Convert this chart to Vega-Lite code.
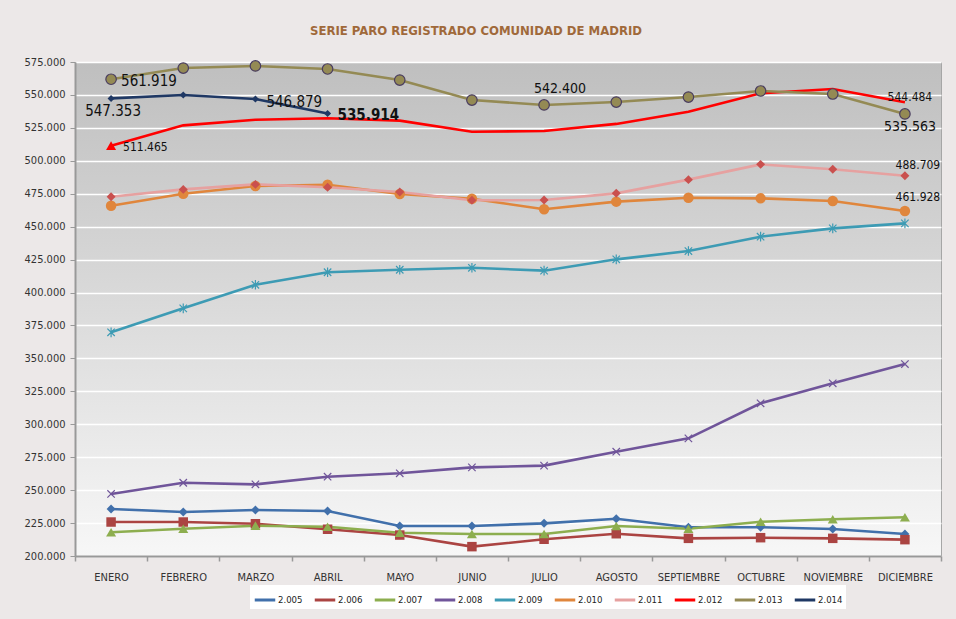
{
  "$schema": "https://vega.github.io/schema/vega-lite/v6.json",
  "width": 866,
  "height": 494,
  "autosize": {"type": "none"},
  "padding": {"left": 75, "top": 62, "right": 15, "bottom": 63},
  "background": "#ece8e8",
  "title": {
    "text": "SERIE PARO REGISTRADO COMUNIDAD DE MADRID",
    "anchor": "middle",
    "dx": -32,
    "offset": 18,
    "font": "Liberation Sans Narrow, DejaVu Sans Condensed, Roboto, sans-serif",
    "fontSize": 13,
    "fontWeight": "bold",
    "color": "#a0693a"
  },
  "config": {
    "locale": {"number": {"decimal": ",", "thousands": ".", "grouping": [3], "currency": ["", " €"]}},
    "view": {
      "fill": {"gradient": "linear", "x1": 0, "y1": 0, "x2": 0, "y2": 1,
        "stops": [{"offset": 0, "color": "#bfbfbf"}, {"offset": 0.45, "color": "#d8d8d8"}, {"offset": 1, "color": "#f7f7f7"}]},
      "stroke": "#a6a6a6",
      "strokeWidth": 1
    },
    "font": "Liberation Sans Narrow, DejaVu Sans Condensed, Roboto, sans-serif"
  },
  "data": {"values": [
    {"serie": "2.005", "mes": "ENERO", "valor": 235700}, {"serie": "2.005", "mes": "FEBRERO", "valor": 233400}, {"serie": "2.005", "mes": "MARZO", "valor": 234900}, {"serie": "2.005", "mes": "ABRIL", "valor": 234200}, {"serie": "2.005", "mes": "MAYO", "valor": 222800}, {"serie": "2.005", "mes": "JUNIO", "valor": 222800}, {"serie": "2.005", "mes": "JULIO", "valor": 224800}, {"serie": "2.005", "mes": "AGOSTO", "valor": 228300}, {"serie": "2.005", "mes": "SEPTIEMBRE", "valor": 221800}, {"serie": "2.005", "mes": "OCTUBRE", "valor": 221800}, {"serie": "2.005", "mes": "NOVIEMBRE", "valor": 220500}, {"serie": "2.005", "mes": "DICIEMBRE", "valor": 216700},
    {"serie": "2.006", "mes": "ENERO", "valor": 225800}, {"serie": "2.006", "mes": "FEBRERO", "valor": 225800}, {"serie": "2.006", "mes": "MARZO", "valor": 224500}, {"serie": "2.006", "mes": "ABRIL", "valor": 220300}, {"serie": "2.006", "mes": "MAYO", "valor": 215900}, {"serie": "2.006", "mes": "JUNIO", "valor": 207100}, {"serie": "2.006", "mes": "JULIO", "valor": 212700}, {"serie": "2.006", "mes": "AGOSTO", "valor": 216900}, {"serie": "2.006", "mes": "SEPTIEMBRE", "valor": 213400}, {"serie": "2.006", "mes": "OCTUBRE", "valor": 213900}, {"serie": "2.006", "mes": "NOVIEMBRE", "valor": 213400}, {"serie": "2.006", "mes": "DICIEMBRE", "valor": 212400},
    {"serie": "2.007", "mes": "ENERO", "valor": 218000}, {"serie": "2.007", "mes": "FEBRERO", "valor": 220700}, {"serie": "2.007", "mes": "MARZO", "valor": 223000}, {"serie": "2.007", "mes": "ABRIL", "valor": 222200}, {"serie": "2.007", "mes": "MAYO", "valor": 217700}, {"serie": "2.007", "mes": "JUNIO", "valor": 216700}, {"serie": "2.007", "mes": "JULIO", "valor": 216700}, {"serie": "2.007", "mes": "AGOSTO", "valor": 222800}, {"serie": "2.007", "mes": "SEPTIEMBRE", "valor": 220700}, {"serie": "2.007", "mes": "OCTUBRE", "valor": 226000}, {"serie": "2.007", "mes": "NOVIEMBRE", "valor": 227900}, {"serie": "2.007", "mes": "DICIEMBRE", "valor": 229400},
    {"serie": "2.008", "mes": "ENERO", "valor": 247100}, {"serie": "2.008", "mes": "FEBRERO", "valor": 255600}, {"serie": "2.008", "mes": "MARZO", "valor": 254400}, {"serie": "2.008", "mes": "ABRIL", "valor": 260200}, {"serie": "2.008", "mes": "MAYO", "valor": 262800}, {"serie": "2.008", "mes": "JUNIO", "valor": 267300}, {"serie": "2.008", "mes": "JULIO", "valor": 268600}, {"serie": "2.008", "mes": "AGOSTO", "valor": 279200}, {"serie": "2.008", "mes": "SEPTIEMBRE", "valor": 289300}, {"serie": "2.008", "mes": "OCTUBRE", "valor": 315900}, {"serie": "2.008", "mes": "NOVIEMBRE", "valor": 331100}, {"serie": "2.008", "mes": "DICIEMBRE", "valor": 345700},
    {"serie": "2.009", "mes": "ENERO", "valor": 369800}, {"serie": "2.009", "mes": "FEBRERO", "valor": 388000}, {"serie": "2.009", "mes": "MARZO", "valor": 405900}, {"serie": "2.009", "mes": "ABRIL", "valor": 415400}, {"serie": "2.009", "mes": "MAYO", "valor": 417300}, {"serie": "2.009", "mes": "JUNIO", "valor": 418800}, {"serie": "2.009", "mes": "JULIO", "valor": 416600}, {"serie": "2.009", "mes": "AGOSTO", "valor": 425200}, {"serie": "2.009", "mes": "SEPTIEMBRE", "valor": 431500}, {"serie": "2.009", "mes": "OCTUBRE", "valor": 442400}, {"serie": "2.009", "mes": "NOVIEMBRE", "valor": 448700}, {"serie": "2.009", "mes": "DICIEMBRE", "valor": 452500},
    {"serie": "2.010", "mes": "ENERO", "valor": 465900}, {"serie": "2.010", "mes": "FEBRERO", "valor": 475000}, {"serie": "2.010", "mes": "MARZO", "valor": 480900}, {"serie": "2.010", "mes": "ABRIL", "valor": 481800}, {"serie": "2.010", "mes": "MAYO", "valor": 474800}, {"serie": "2.010", "mes": "JUNIO", "valor": 471200}, {"serie": "2.010", "mes": "JULIO", "valor": 463200}, {"serie": "2.010", "mes": "AGOSTO", "valor": 469000}, {"serie": "2.010", "mes": "SEPTIEMBRE", "valor": 472000}, {"serie": "2.010", "mes": "OCTUBRE", "valor": 471500}, {"serie": "2.010", "mes": "NOVIEMBRE", "valor": 469500}, {"serie": "2.010", "mes": "DICIEMBRE", "valor": 461928},
    {"serie": "2.011", "mes": "ENERO", "valor": 472700}, {"serie": "2.011", "mes": "FEBRERO", "valor": 478300}, {"serie": "2.011", "mes": "MARZO", "valor": 482100}, {"serie": "2.011", "mes": "ABRIL", "valor": 479900}, {"serie": "2.011", "mes": "MAYO", "valor": 476300}, {"serie": "2.011", "mes": "JUNIO", "valor": 470000}, {"serie": "2.011", "mes": "JULIO", "valor": 470200}, {"serie": "2.011", "mes": "AGOSTO", "valor": 475300}, {"serie": "2.011", "mes": "SEPTIEMBRE", "valor": 485700}, {"serie": "2.011", "mes": "OCTUBRE", "valor": 497300}, {"serie": "2.011", "mes": "NOVIEMBRE", "valor": 493600}, {"serie": "2.011", "mes": "DICIEMBRE", "valor": 488709},
    {"serie": "2.012", "mes": "ENERO", "valor": 511465}, {"serie": "2.012", "mes": "FEBRERO", "valor": 526900}, {"serie": "2.012", "mes": "MARZO", "valor": 531200}, {"serie": "2.012", "mes": "ABRIL", "valor": 532300}, {"serie": "2.012", "mes": "MAYO", "valor": 530500}, {"serie": "2.012", "mes": "JUNIO", "valor": 522100}, {"serie": "2.012", "mes": "JULIO", "valor": 522600}, {"serie": "2.012", "mes": "AGOSTO", "valor": 528000}, {"serie": "2.012", "mes": "SEPTIEMBRE", "valor": 537300}, {"serie": "2.012", "mes": "OCTUBRE", "valor": 551200}, {"serie": "2.012", "mes": "NOVIEMBRE", "valor": 554500}, {"serie": "2.012", "mes": "DICIEMBRE", "valor": 544484},
    {"serie": "2.013", "mes": "ENERO", "valor": 561919}, {"serie": "2.013", "mes": "FEBRERO", "valor": 570400}, {"serie": "2.013", "mes": "MARZO", "valor": 572000}, {"serie": "2.013", "mes": "ABRIL", "valor": 569700}, {"serie": "2.013", "mes": "MAYO", "valor": 561300}, {"serie": "2.013", "mes": "JUNIO", "valor": 546100}, {"serie": "2.013", "mes": "JULIO", "valor": 542400}, {"serie": "2.013", "mes": "AGOSTO", "valor": 544600}, {"serie": "2.013", "mes": "SEPTIEMBRE", "valor": 548400}, {"serie": "2.013", "mes": "OCTUBRE", "valor": 553000}, {"serie": "2.013", "mes": "NOVIEMBRE", "valor": 550700}, {"serie": "2.013", "mes": "DICIEMBRE", "valor": 535563},
    {"serie": "2.014", "mes": "ENERO", "valor": 547353}, {"serie": "2.014", "mes": "FEBRERO", "valor": 549900}, {"serie": "2.014", "mes": "MARZO", "valor": 546879}, {"serie": "2.014", "mes": "ABRIL", "valor": 535914}
  ]},
  "encoding": {
    "x": {
      "field": "mes", "type": "ordinal", "bandPosition": 0.5,
      "sort": ["ENERO", "FEBRERO", "MARZO", "ABRIL", "MAYO", "JUNIO", "JULIO", "AGOSTO", "SEPTIEMBRE", "OCTUBRE", "NOVIEMBRE", "DICIEMBRE"],
      "scale": {"type": "band", "paddingInner": 0, "paddingOuter": 0},
      "axis": {
        "title": null, "labelAngle": 0, "labelFontSize": 11, "labelColor": "#333333",
        "labelPadding": 10, "tickBand": "extent", "tickColor": "#999999", "tickSize": 5, "tickWidth": 1.5,
        "domainColor": "#999999", "domainWidth": 2, "grid": false
      }
    },
    "y": {
      "field": "valor", "type": "quantitative",
      "scale": {"domain": [200000, 575000], "nice": false, "zero": false},
      "axis": {
        "title": null, "format": ",d",
        "values": [200000, 225000, 250000, 275000, 300000, 325000, 350000, 375000, 400000, 425000, 450000, 475000, 500000, 525000, 550000, 575000],
        "labelFontSize": 11, "labelColor": "#333333", "labelPadding": 5,
        "tickColor": "#999999", "tickSize": 5, "domainColor": "#999999", "domainWidth": 2,
        "grid": true, "gridColor": "#ffffff", "gridWidth": 1.5
      }
    }
  },
  "layer": [
    {
      "mark": {"type": "line", "strokeWidth": 2.6},
      "encoding": {
        "color": {
          "field": "serie", "type": "nominal",
          "scale": {
            "domain": ["2.005", "2.006", "2.007", "2.008", "2.009", "2.010", "2.011", "2.012", "2.013", "2.014"],
            "range": ["#4170ab", "#ab4442", "#8dae4f", "#70559a", "#3d9bb4", "#e0863c", "#e6a1a0", "#ff0000", "#948a54", "#1f3864"]
          },
          "legend": {
            "title": null, "orient": "none", "legendX": 175, "legendY": 523, "direction": "horizontal",
            "fillColor": "#ffffff", "padding": 3, "symbolType": "stroke", "symbolStrokeWidth": 3,
            "symbolSize": 420, "labelFontSize": 9.5, "labelColor": "#222222", "columnPadding": 5, "labelOffset": 1
          }
        }
      }
    },
    {
      "transform": [{"filter": "indexof(['2.005','2.006','2.007','2.010','2.011','2.014'], datum.serie) >= 0 || (datum.serie == '2.012' && datum.mes == 'ENERO')"}],
      "mark": {"type": "point", "filled": true, "opacity": 1},
      "encoding": {
        "color": {
          "field": "serie", "type": "nominal", "legend": null,
          "scale": {
            "domain": ["2.005", "2.006", "2.007", "2.010", "2.011", "2.012", "2.014"],
            "range": ["#4170ab", "#ab4442", "#8dae4f", "#e0863c", "#c9504e", "#ff0000", "#1f3864"]
          }
        },
        "shape": {
          "field": "serie", "type": "nominal", "legend": null,
          "scale": {
            "domain": ["2.005", "2.006", "2.007", "2.010", "2.011", "2.012", "2.014"],
            "range": ["diamond", "square", "triangle-up", "circle", "diamond", "triangle-up", "diamond"]
          }
        },
        "size": {
          "field": "serie", "type": "nominal", "legend": null,
          "scale": {
            "type": "ordinal",
            "domain": ["2.005", "2.006", "2.007", "2.010", "2.011", "2.012", "2.014"],
            "range": [80, 90, 100, 110, 80, 100, 50]
          }
        }
      }
    },
    {
      "transform": [{"filter": "datum.serie == '2.013'"}],
      "mark": {"type": "point", "shape": "circle", "filled": true, "fill": "#948a54", "stroke": "#4a3d60", "strokeWidth": 1.2, "size": 110, "opacity": 1}
    },
    {
      "transform": [{"filter": "datum.serie == '2.008'"}],
      "mark": {"type": "point", "shape": "M-1,-1L1,1M-1,1L1,-1", "filled": false, "stroke": "#70559a", "strokeWidth": 1.2, "size": 55, "opacity": 1}
    },
    {
      "transform": [{"filter": "datum.serie == '2.009'"}],
      "mark": {"type": "point", "shape": "M-1,-1L1,1M-1,1L1,-1M0,-1.3L0,1.3", "filled": false, "stroke": "#3d9bb4", "strokeWidth": 1.2, "size": 55, "opacity": 1}
    },
    {
      "transform": [{"filter": "datum.serie == '2.013' && datum.mes == 'ENERO'"}],
      "mark": {"type": "text", "align": "left", "baseline": "middle", "dx": 10, "dy": 2, "fontSize": 15, "color": "#111111"},
      "encoding": {"text": {"field": "valor", "type": "quantitative", "format": ",d"}}
    },
    {
      "transform": [{"filter": "datum.serie == '2.014' && datum.mes == 'ENERO'"}],
      "mark": {"type": "text", "align": "center", "baseline": "middle", "dx": 2, "dy": 13, "fontSize": 15, "color": "#111111"},
      "encoding": {"text": {"field": "valor", "type": "quantitative", "format": ",d"}}
    },
    {
      "transform": [{"filter": "datum.serie == '2.014' && datum.mes == 'MARZO'"}],
      "mark": {"type": "text", "align": "left", "baseline": "middle", "dx": 11, "dy": 3, "fontSize": 15, "color": "#111111"},
      "encoding": {"text": {"field": "valor", "type": "quantitative", "format": ",d"}}
    },
    {
      "transform": [{"filter": "datum.serie == '2.014' && datum.mes == 'ABRIL'"}],
      "mark": {"type": "text", "align": "left", "baseline": "middle", "dx": 10, "dy": 2, "fontSize": 15, "fontWeight": "bold", "color": "#111111"},
      "encoding": {"text": {"field": "valor", "type": "quantitative", "format": ",d"}}
    },
    {
      "transform": [{"filter": "datum.serie == '2.012' && datum.mes == 'ENERO'"}],
      "mark": {"type": "text", "align": "left", "baseline": "middle", "dx": 12, "dy": 1, "fontSize": 12, "color": "#111111"},
      "encoding": {"text": {"field": "valor", "type": "quantitative", "format": ",d"}}
    },
    {
      "transform": [{"filter": "datum.serie == '2.013' && datum.mes == 'JULIO'"}],
      "mark": {"type": "text", "align": "center", "baseline": "middle", "dx": 16, "dy": -16, "fontSize": 14, "color": "#111111"},
      "encoding": {"text": {"field": "valor", "type": "quantitative", "format": ",d"}}
    },
    {
      "transform": [{"filter": "datum.serie == '2.012' && datum.mes == 'DICIEMBRE'"}],
      "mark": {"type": "text", "align": "center", "baseline": "middle", "dx": 5, "dy": -5, "fontSize": 12, "color": "#111111"},
      "encoding": {"text": {"field": "valor", "type": "quantitative", "format": ",d"}}
    },
    {
      "transform": [{"filter": "datum.serie == '2.013' && datum.mes == 'DICIEMBRE'"}],
      "mark": {"type": "text", "align": "center", "baseline": "middle", "dx": 5, "dy": 13, "fontSize": 14, "color": "#111111"},
      "encoding": {"text": {"field": "valor", "type": "quantitative", "format": ",d"}}
    },
    {
      "transform": [{"filter": "datum.serie == '2.011' && datum.mes == 'DICIEMBRE'"}],
      "mark": {"type": "text", "align": "center", "baseline": "middle", "dx": 13, "dy": -11, "fontSize": 12, "color": "#111111"},
      "encoding": {"text": {"field": "valor", "type": "quantitative", "format": ",d"}}
    },
    {
      "transform": [{"filter": "datum.serie == '2.010' && datum.mes == 'DICIEMBRE'"}],
      "mark": {"type": "text", "align": "center", "baseline": "middle", "dx": 13, "dy": -14, "fontSize": 12, "color": "#111111"},
      "encoding": {"text": {"field": "valor", "type": "quantitative", "format": ",d"}}
    }
  ],
  "resolve": {"scale": {"color": "independent"}}
}
